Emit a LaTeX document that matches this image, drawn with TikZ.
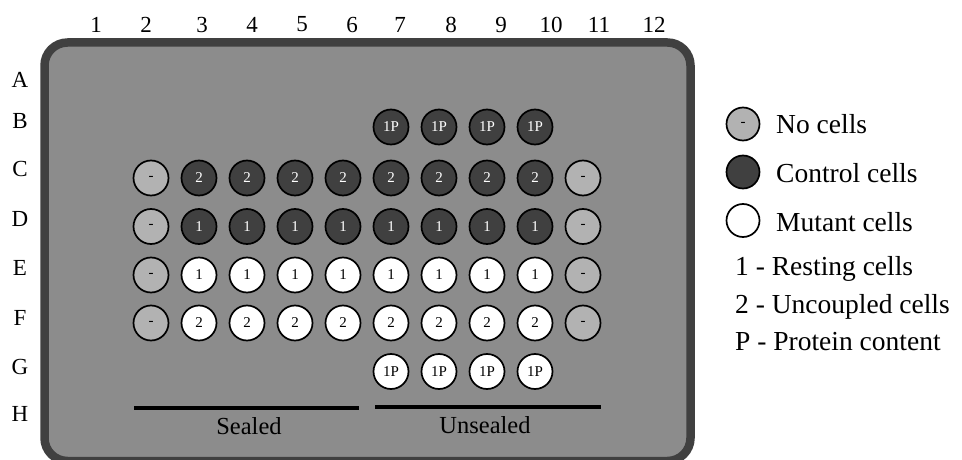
\documentclass[tikz,border=0pt]{standalone}
\usepackage{fontspec}
\setmainfont{Liberation Serif}
\definecolor{cborder}{gray}{0.25}
\definecolor{cplate}{gray}{0.55}
\definecolor{cdark}{gray}{0.25}
\definecolor{clight}{gray}{0.70}
\begin{document}
\begin{tikzpicture}[x=1pt,y=-1pt,
  well/.style={circle, draw=black, line width=1.7pt, minimum size=35pt, inner sep=0pt,
    font=\fontsize{15}{15}\selectfont},
  ctrl/.style={well, fill=cdark, text=white},
  mut/.style={well, fill=white, text=black},
  nocell/.style={well, fill=clight, text=black},
  lbl/.style={font=\fontsize{23}{23}\selectfont, inner sep=0pt},
  leg/.style={font=\fontsize{27.5}{27.5}\selectfont, inner sep=0pt, anchor=base west},
  grp/.style={font=\fontsize{24.5}{24.5}\selectfont, inner sep=0pt, anchor=base},
  bar/.style={line width=4.3pt}
]
\useasboundingbox (0,0) rectangle (962,460);
\begin{scope}
\clip (0,0) rectangle (962,460);
\draw[line width=8.5pt, draw=cborder, fill=cplate, rounded corners=23pt]
  (44.5,42.5) rectangle (690.5,461);
\end{scope}
% column labels
\foreach \n/\x in {1/96,2/146,3/202,4/252,5/302,6/352,7/400,8/451,9/501,10/551,11/599,12/654}
  \node[lbl] (col\n) at (\x,24.5) {\n};
% row labels
\foreach \r/\y in {A/80,B/121,C/169,D/219,E/268,F/318,G/367,H/414}
  \node[lbl] (row\r) at (20,\y) {\r};
% row B
\foreach \c in {7,...,10}
  \node[ctrl] (B\c) at ({199+(\c-3)*48},127) {1P};
% row C
\node[nocell] (C2) at (151,178) {-};
\foreach \c in {3,...,10}
  \node[ctrl] (C\c) at ({199+(\c-3)*48},178) {2};
\node[nocell] (C11) at (583,178) {-};
% row D
\node[nocell] (D2) at (151,226.5) {-};
\foreach \c in {3,...,10}
  \node[ctrl] (D\c) at ({199+(\c-3)*48},226.5) {1};
\node[nocell] (D11) at (583,226.5) {-};
% row E
\node[nocell] (E2) at (151,275) {-};
\foreach \c in {3,...,10}
  \node[mut] (E\c) at ({199+(\c-3)*48},275) {1};
\node[nocell] (E11) at (583,275) {-};
% row F
\node[nocell] (F2) at (151,323) {-};
\foreach \c in {3,...,10}
  \node[mut] (F\c) at ({199+(\c-3)*48},323) {2};
\node[nocell] (F11) at (583,323) {-};
% row G
\foreach \c in {7,...,10}
  \node[mut] (G\c) at ({199+(\c-3)*48},371.5) {1P};
% groups
\coordinate (s1) at (134,408);
\coordinate (s2) at (359,408);
\coordinate (u1) at (375,407);
\coordinate (u2) at (601,407);
\draw[bar] (s1) -- (s2);
\draw[bar] (u1) -- (u2);
\node[grp] (sealed) at (249,434) {Sealed};
\node[grp] (unsealed) at (485,433) {Unsealed};
% legend
\node[nocell, minimum size=33pt] (lnone) at (743,124) {-};
\node[ctrl, minimum size=33pt] (lctrl) at (743,172) {};
\node[mut, minimum size=33pt] (lmut) at (743,220.5) {};
\node[leg] (tnone) at (776,133) {No cells};
\node[leg] (tctrl) at (776,182) {Control cells};
\node[leg] (tmut) at (776,231) {Mutant cells};
\node[leg] (t1) at (735,275) {1 - Resting cells};
\node[leg] (t2) at (735,313) {2 - Uncoupled cells};
\node[leg] (tp) at (735,350) {P - Protein content};
\end{tikzpicture}
\end{document}
